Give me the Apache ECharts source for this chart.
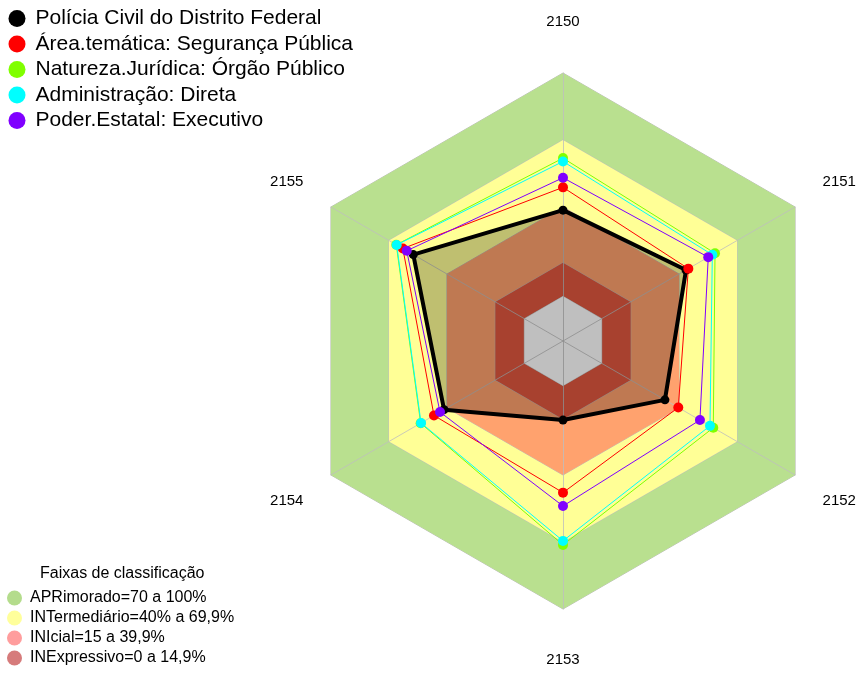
<!DOCTYPE html>
<html>
<head>
<meta charset="utf-8">
<script src="https://cdn.jsdelivr.net/npm/echarts@6/dist/echarts.min.js"></script>
<style>
  html, body { margin: 0; padding: 0; background: #fff; }
  #grafico { width: 863px; height: 673px; }
</style>
</head>
<body>
<div id="grafico"></div>
<script>
// eixos do radar, em sentido horario a partir do topo
var indicadores = ['2150', '2151', '2152', '2153', '2154', '2155'];

// valores (%), mesma ordem dos indicadores
var policiaCivil = [38.6, 43.6, 32.7, 15.4, 41.5, 57.4];
var areaTematica = [48.8, 44.8, 39.6, 47.9, 46.7, 62.8];
var naturezaJuridica = [61.9, 58.6, 57.7, 71.3, 53.6, 66.2];
var administracao = [60.4, 57.2, 56.0, 69.5, 53.4, 66.0];
var poderEstatal = [53.1, 55.1, 50.8, 53.9, 43.6, 60.8];

var nomesSeries = [
    'Polícia Civil do Distrito Federal',
    'Área.temática: Segurança Pública',
    'Natureza.Jurídica: Órgão Público',
    'Administração: Direta',
    'Poder.Estatal: Executivo'
];
var valoresSeries = [policiaCivil, areaTematica, naturezaJuridica, administracao, poderEstatal];
var coresSeries = ['#000000', '#ff0000', '#80ff00', '#00ffff', '#8000ff'];

// faixas de classificacao (limite superior de cada faixa)
var faixasNomes = ['APRimorado=70 a 100%', 'INTermediário=40% a 69,9%', 'INIcial=15 a 39,9%', 'INExpressivo=0 a 14,9%'];
var faixasLimites = [100, 70, 40, 15];
var faixasCores = ['#b9e08f', '#ffff96', '#ffa26e', '#e0573f'];
var faixasCoresLegenda = ['#b4dc8c', '#ffff9b', '#ff9d9d', '#d67b7b'];

// echarts desenha o radar no sentido anti-horario: inverte a ordem
function horario(arr) {
    return [arr[0]].concat(arr.slice(1).reverse());
}

var chart = echarts.init(document.getElementById('grafico'));
var fonte = '"Liberation Sans", Arial, sans-serif';

var series = [];

//faixas de fundo
faixasNomes.forEach(function (nome, i) {
    series.push({
        type: 'radar',
        name: nome,
        z: 1,
        silent: true,
        symbol: 'none',
        color: faixasCores[i],
        lineStyle: { color: '#bdbdbd', width: 1 },
        areaStyle: { color: faixasCores[i], opacity: 1 },
        data: [{
            name: nome,
            value: horario(indicadores.map(function () { return faixasLimites[i]; }))
        }]
    });
});
// miolo abaixo de zero
series.push({
    type: 'radar',
    name: 'base',
    z: 1,
    silent: true,
    symbol: 'none',
    lineStyle: { color: '#bdbdbd', width: 1 },
    areaStyle: { color: '#ffffff', opacity: 1 },
    data: [{ name: 'base', value: horario(indicadores.map(function () { return 0; })) }]
});

//series de dados
nomesSeries.forEach(function (nome, i) {
    var principal = i === 0;
    series.push({
        type: 'radar',
        name: nome,
        z: 3,
        symbol: 'circle',
        symbolSize: principal ? 9 : 10,
        color: coresSeries[i],
        itemStyle: { color: coresSeries[i] },
        lineStyle: { color: coresSeries[i], width: principal ? 4 : 1 },
        areaStyle: principal ? { color: 'rgba(0,0,0,0.25)', opacity: 1 } : null,
        data: [{ name: nome, value: horario(valoresSeries[i]) }]
    });
});

var option = {
    backgroundColor: '#ffffff',
    animation: false,
    title: {
        text: 'Faixas de classificação',
        left: 40,
        top: 566,
        padding: 0,
        textStyle: { fontFamily: fonte, fontSize: 16, fontWeight: 'normal', color: '#000' }
    },
    legend: [{
        orient: 'vertical',
        left: 8.5,
        top: 8,
        padding: 0,
        icon: 'circle',
        itemWidth: 17,
        itemHeight: 17,
        itemGap: 4.5,
        selectedMode: false,
        data: nomesSeries,
        textStyle: { fontFamily: fonte, fontSize: 21, color: '#000', padding: [0, 0, 0, 5] }
    }, {
        orient: 'vertical',
        left: 7,
        top: 590,
        height: 83,
        padding: 0,
        icon: 'circle',
        itemWidth: 15,
        itemHeight: 15,
        itemGap: 4,
        selectedMode: false,
        data: faixasNomes.map(function (n, i) {
            return { name: n, itemStyle: { color: faixasCoresLegenda[i] } };
        }),
        textStyle: { fontFamily: fonte, fontSize: 16, color: '#000', padding: [0, 0, 0, 3] }
    }],
    radar: {
        z: 2,
        center: [563, 341],
        radius: 268,
        startAngle: 90,
        shape: 'polygon',
        nameGap: 51,
        axisName: {
            color: '#000',
            fontFamily: fonte,
            fontSize: 15,
            align: 'center',
            verticalAlign: 'middle'
        },
        indicator: horario(indicadores).map(function (n) {
            return { name: n, min: -20, max: 100 };
        }),
        axisLine: { lineStyle: { color: 'rgba(190,190,190,0.8)', width: 1 } },
        splitLine: { show: false },
        splitArea: { show: false },
        axisTick: { show: false },
        axisLabel: { show: false }
    },
    series: series
};

chart.setOption(option);
</script>
</body>
</html>
